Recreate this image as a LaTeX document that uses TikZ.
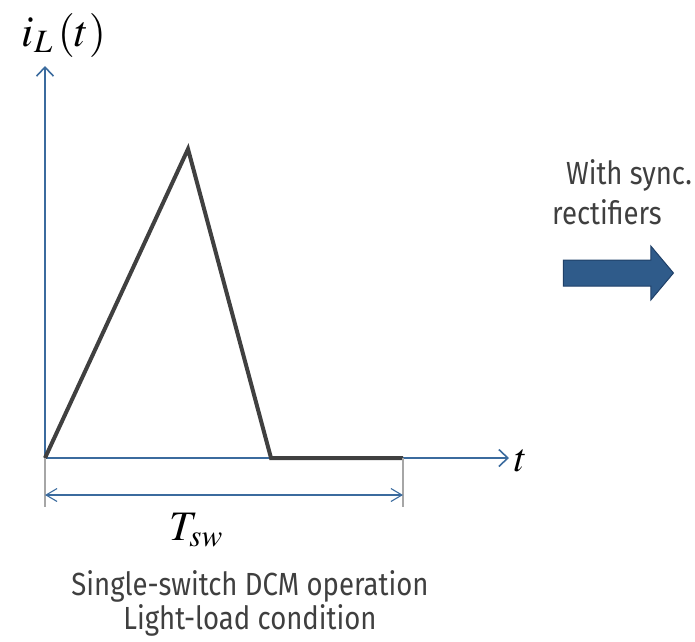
\documentclass[tikz,border=0pt]{standalone}
\usepackage{mathptmx}
\usepackage{fontspec}
\setmainfont[FakeStretch=0.86]{Fira Sans}
\usetikzlibrary{arrows.meta,shapes.arrows}

\definecolor{axisblue}{HTML}{3B6B9E}
\definecolor{wavegray}{HTML}{404040}
\definecolor{captiongray}{HTML}{3F3F3F}
\definecolor{syncfill}{HTML}{2F5B8A}
\definecolor{syncline}{HTML}{1F4068}

\tikzset{
  axisline/.style={draw=axisblue,line width=1.6pt,-{Straight Barb[length=9pt,width=17pt]}},
  waveline/.style={draw=wavegray,line width=4pt,line join=miter},
  dimline/.style={draw=axisblue,line width=1.1pt,{Straight Barb[length=11pt,width=13pt]}-{Straight Barb[length=11pt,width=13pt]}},
  tickline/.style={draw=gray!70,line width=1.1pt},
  caption/.style={text=captiongray,inner sep=0pt,font=\fontsize{32}{36}\selectfont},
  mathlabel/.style={inner sep=0pt,font=\fontsize{40}{44}\selectfont}
}

\begin{document}
\begin{tikzpicture}[x=1pt,y=-1pt]
    \useasboundingbox (0,0) rectangle (695,641);

    % axes
    \coordinate (origin) at (45,458);
    \coordinate (ytip) at (45,66);
    \coordinate (xtip) at (509,458);
    \draw[axisline] (origin) -- (ytip);
    \draw[axisline] (origin) -- (xtip);
    \node[mathlabel,font=\fontsize{44}{48}\selectfont,anchor=base] (ilabel) at (64,46) {$i_{L}\,(t)$};
    \node[mathlabel,anchor=west] (tlabel) at (514,461) {$t$};

    % inductor current, DCM
    \coordinate (peak) at (188,149);
    \coordinate (zero) at (271,458);
    \coordinate (tend) at (403,458);
    \draw[waveline] (origin) -- (peak) -- (zero) -- (tend);

    % switching period
    \coordinate (tickA) at (45,507);
    \coordinate (tickB) at (403,507);
    \draw[tickline] (origin) -- (tickA);
    \draw[tickline] (tend) -- (tickB);
    \coordinate (dimA) at (45,495);
    \coordinate (dimB) at (403,495);
    \draw[dimline] (dimA) -- (dimB);
    \node[mathlabel,font=\fontsize{42}{46}\selectfont] (tsw) at (196,530) {$T_{sw}$};

    \node[caption] (capA) at (250,586) {Single-switch DCM operation};
    \node[caption] (capB) at (250,620) {Light-load condition};

    % synchronous rectifier hint
    \node[caption] (syncA) at (629,175) {With sync.};
    \node[caption] (syncB) at (607,212) {rectifiers};
    \node[single arrow,draw=syncline,fill=syncfill,line width=1pt,
          minimum height=110pt,inner xsep=0pt,inner ysep=12.5pt,
          single arrow head extend=14pt,single arrow tip angle=100]
          (syncarrow) at (613,273) {};

  \end{tikzpicture}
\end{document}
